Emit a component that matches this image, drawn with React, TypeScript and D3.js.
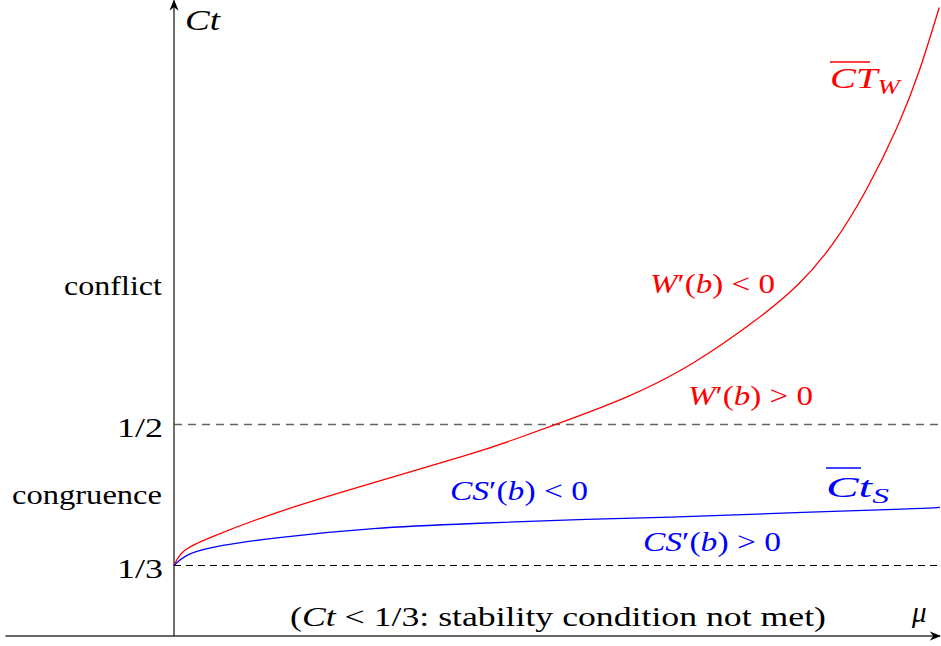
import * as d3 from 'd3';

// mu on [0, 1], Ct on [0.25, 1]
const muRed = [0, 0.01, 0.043, 0.13, 0.261, 0.391, 0.441, 0.498, 0.591, 0.677, 0.764, 0.816, 0.86, 0.905, 0.948, 0.974, 0.999];
const ctRed = [0.3333, 0.352, 0.3652, 0.396, 0.4314, 0.4657, 0.4811, 0.5, 0.5307, 0.5697, 0.6253, 0.6643, 0.7104, 0.7766, 0.857, 0.9184, 0.9929];

const muBlue = [0, 0.013, 0.043, 0.13, 0.261, 0.391, 0.52, 0.643, 0.8, 0.975, 1];
const ctBlue = [0.3333, 0.3452, 0.3546, 0.3664, 0.3782, 0.383, 0.3877, 0.3901, 0.3955, 0.4007, 0.402];

const refLevels = [1 / 2, 1 / 3];
const refLabels = ['1/2', '1/3'];
const regionLabels = [
  { text: 'conflict', ct: 0.662, width: 98 },
  { text: 'congruence', ct: 0.415, width: 150 },
];
const muMin = -0.22;

const W = 941;
const H = 646;
const TS = { fontFamily: "'Liberation Serif'" };
const RED = '#ff0000';
const BLUE = '#0000ff';
const AXIS = '#333';
const FIT = 'spacingAndGlyphs';

export default function App() {
  const x = d3.scaleLinear().domain([0, 1]).range([174, 940]);
  const y = d3.scaleLinear().domain([0.25, 1]).range([636, 1.5]);

  const lineGen = d3
    .line<[number, number]>()
    .x(d => x(d[0]))
    .y(d => y(d[1]))
    .curve(d3.curveBasis);

  const redPath = lineGen(muRed.map((m, i) => [m, ctRed[i]] as [number, number])) || '';
  const bluePath = lineGen(muBlue.map((m, i) => [m, ctBlue[i]] as [number, number])) || '';

  const x0 = x(0);
  const yBase = y(0.25);

  return (
    <svg
      width={W}
      height={H}
      viewBox={`0 0 ${W} ${H}`}
      style={{ position: 'absolute', left: 0, top: 0, background: '#fff' }}
    >
      <defs>
        <marker id="arr" viewBox="0 0 10 10" refX="9" refY="5" markerWidth="8" markerHeight="8" orient="auto">
          <path d="M0,1 L10,5 L0,9 L3,5 Z" fill="#000" />
        </marker>
      </defs>

      {/* reference levels */}
      <line x1={x0} x2={x(1)} y1={y(refLevels[0])} y2={y(refLevels[0])} stroke="#666" strokeWidth={1.3} strokeDasharray="8 6" />
      <line x1={x0} x2={x(1)} y1={y(refLevels[1])} y2={y(refLevels[1])} stroke="#000" strokeWidth={1.2} strokeDasharray="7 5" />

      {/* axes */}
      <line x1={x(muMin)} x2={x(1)} y1={yBase} y2={yBase} stroke={AXIS} strokeWidth={1.4} markerEnd="url(#arr)" />
      <line x1={x0} x2={x0} y1={yBase} y2={y(1) - 1} stroke={AXIS} strokeWidth={1.4} markerEnd="url(#arr)" />

      {/* curves */}
      <path d={redPath} fill="none" stroke={RED} strokeWidth={1.3} />
      <path d={bluePath} fill="none" stroke={BLUE} strokeWidth={1.3} />

      {/* y labels */}
      {refLevels.map((v, i) => (
        <text key={i} style={TS} x={x0 - 11} y={y(v) + 12} fontSize={28} textAnchor="end" textLength={46} lengthAdjust={FIT}>
          {refLabels[i]}
        </text>
      ))}
      {regionLabels.map(r => (
        <text key={r.text} style={TS} x={x0 - 12} y={y(r.ct) + 8} fontSize={28} textAnchor="end" textLength={r.width} lengthAdjust={FIT}>
          {r.text}
        </text>
      ))}

      {/* axis titles */}
      <text style={TS} x={x0 + 11} y={30} fontSize={29} fontStyle="italic" textLength={35} lengthAdjust={FIT}>Ct</text>
      <text style={TS} x={912} y={622} fontSize={29} fontStyle="italic">μ</text>

      <text style={TS} x={290} y={626} fontSize={28} textLength={536} lengthAdjust={FIT}>
        (<tspan fontStyle="italic">Ct</tspan> &lt; 1/3: stability condition not met)
      </text>

      {/* red annotations */}
      <g fill={RED}>
        <text style={TS} x={830} y={88} fontSize={29} fontStyle="italic" textLength={70} lengthAdjust={FIT}>
          CT<tspan fontSize={20} dy={6}>W</tspan>
        </text>
        <line x1={830} x2={870} y1={62} y2={62} stroke={RED} strokeWidth={1.3} />
        <text style={TS} x={650} y={293} fontSize={28} textLength={125} lengthAdjust={FIT}>
          <tspan fontStyle="italic">W</tspan>′(<tspan fontStyle="italic">b</tspan>) &lt; 0
        </text>
        <text style={TS} x={688} y={405} fontSize={28} textLength={125} lengthAdjust={FIT}>
          <tspan fontStyle="italic">W</tspan>′(<tspan fontStyle="italic">b</tspan>) &gt; 0
        </text>
      </g>

      {/* blue annotations */}
      <g fill={BLUE}>
        <text style={TS} x={826} y={497} fontSize={29} fontStyle="italic" textLength={63} lengthAdjust={FIT}>
          Ct<tspan fontSize={20} dy={6}>S</tspan>
        </text>
        <line x1={826} x2={861} y1={468} y2={468} stroke={BLUE} strokeWidth={1.3} />
        <text style={TS} x={450} y={500} fontSize={28} textLength={138} lengthAdjust={FIT}>
          <tspan fontStyle="italic">CS</tspan>′(<tspan fontStyle="italic">b</tspan>) &lt; 0
        </text>
        <text style={TS} x={643} y={551} fontSize={28} textLength={138} lengthAdjust={FIT}>
          <tspan fontStyle="italic">CS</tspan>′(<tspan fontStyle="italic">b</tspan>) &gt; 0
        </text>
      </g>
    </svg>
  );
}
